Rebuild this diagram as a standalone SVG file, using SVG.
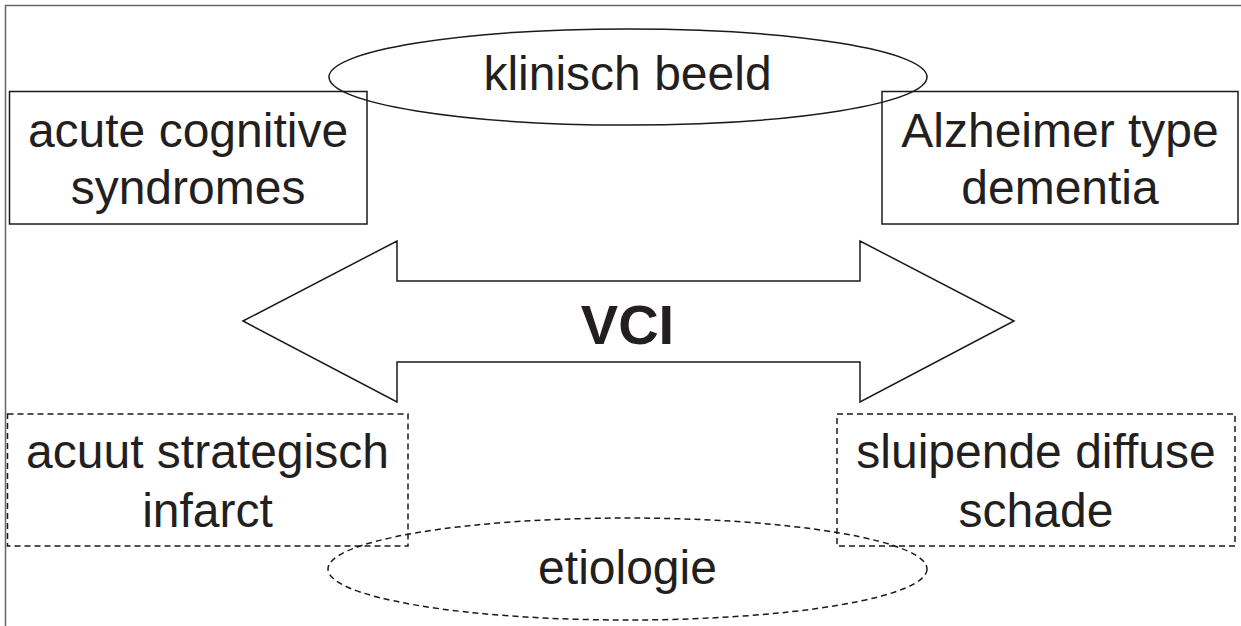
<svg xmlns="http://www.w3.org/2000/svg" width="1241" height="626" viewBox="0 0 1241 626">
<style>
text{font-family:"Liberation Sans",Arial,sans-serif;font-size:48px;fill:#231f20;text-anchor:middle}
.solid{fill:none;stroke:#1a1a1a;stroke-width:1.5}
.dash{fill:none;stroke:#1a1a1a;stroke-width:1.5;stroke-dasharray:6 4}
.vci{font-weight:bold;font-size:56px}
</style>
<rect width="1241" height="626" fill="#fff"/>
<path d="M5.5 626V5.5H1241" fill="none" stroke="#666" stroke-width="1.5"/>
<g id="vci-arrow">
<polygon class="solid" points="243,321 397,241 397,281 860,281 860,241 1014,321 860,402 860,362 397,362 397,402"/>
<text class="vci" x="627.5" y="344">VCI</text>
</g>
<g id="acute-cognitive-syndromes">
<rect class="solid" x="9.5" y="91.5" width="357.5" height="132.5"/>
<text x="188" y="147">acute cognitive</text>
<text x="188" y="204">syndromes</text>
</g>
<g id="alzheimer-type-dementia">
<rect class="solid" x="882" y="91.5" width="356" height="132.5"/>
<text x="1060" y="147">Alzheimer type</text>
<text x="1060" y="204">dementia</text>
</g>
<g id="klinisch-beeld">
<ellipse class="solid" cx="628" cy="77" rx="299" ry="48"/>
<text x="627.5" y="90">klinisch beeld</text>
</g>
<g id="acuut-strategisch-infarct">
<rect class="dash" x="7.5" y="414" width="400.5" height="132"/>
<text x="207.5" y="468">acuut strategisch</text>
<text x="207.5" y="527">infarct</text>
</g>
<g id="sluipende-diffuse-schade">
<rect class="dash" x="837" y="414" width="398" height="132"/>
<text x="1036" y="468">sluipende diffuse</text>
<text x="1036" y="527">schade</text>
</g>
<g id="etiologie">
<ellipse class="dash" cx="627.5" cy="569" rx="299.5" ry="51"/>
<text x="627.5" y="584">etiologie</text>
</g>
<g id="connectors"/>
</svg>
